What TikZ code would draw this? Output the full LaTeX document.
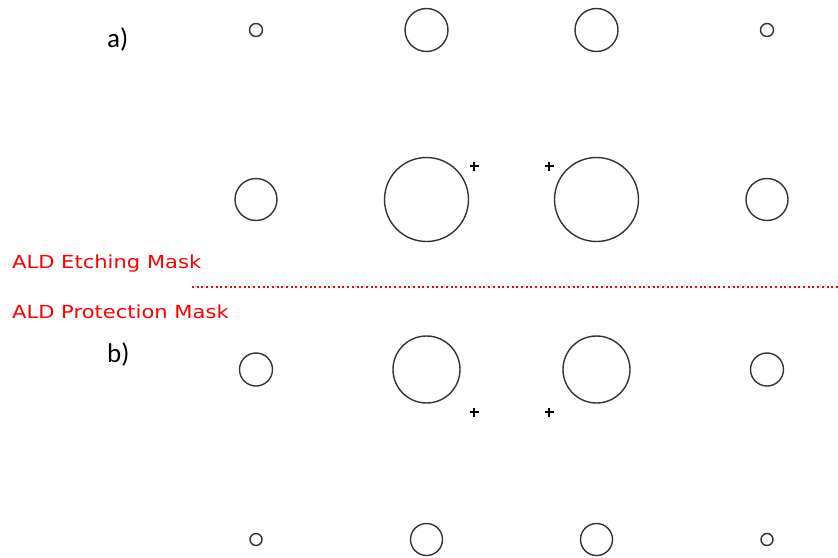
\documentclass[tikz,border=0pt]{standalone}
\usepackage{fontspec}
\setmainfont{Carlito}
\newfontfamily\labfont{DejaVu Sans}
\begin{document}
\begin{tikzpicture}[x=1pt,y=-1pt,
  ring/.style={draw=black!80, line width=1.4pt},
  plusmark/.style={draw=black, line width=2.6pt},
  masklabel/.style={anchor=base west, inner sep=0pt, text=red, font=\labfont\fontsize{18}{20}\selectfont},
  partlabel/.style={anchor=base west, inner sep=0pt, font=\fontsize{27}{30}\selectfont}]
\useasboundingbox (0,0) rectangle (838,557);
% labels
\node[partlabel] (la) at (107,47) {a)};
\node[partlabel] (lb) at (107,362) {b)};
\node[masklabel] (etch) at (12,268) {\scalebox{1.17}[1]{ALD Etching Mask}};
\node[masklabel] (prot) at (12,318) {\scalebox{1.17}[1]{ALD Protection Mask}};
\coordinate (d1) at (192,286.5);
\coordinate (d2) at (838,286.5);
\draw[red, line width=2pt, dash pattern=on 2pt off 2.7pt] (d1) -- (d2);
% circles a)
\foreach \x/\r in {256/6.5, 426.5/21.5, 596.5/21.5, 767/6.5}
  \draw[ring] (\x,30) circle[radius=\r];
\foreach \x/\r in {256/21, 426.5/42, 596.5/42, 767/21}
  \draw[ring] (\x,199.5) circle[radius=\r];
% circles b)
\foreach \x/\r in {256/16.5, 426.5/33.5, 596.5/33.5, 767/16.5}
  \draw[ring] (\x,369.5) circle[radius=\r];
\foreach \x/\r in {256/6, 426.5/16, 596.5/16, 767/6}
  \draw[ring] (\x,539.5) circle[radius=\r];
% plus marks
\foreach \x/\y in {474/166, 549/166, 474/412, 549/412}
  \draw[plusmark] (\x-4.5,\y) -- (\x+4.5,\y) (\x,\y-4.5) -- (\x,\y+4.5);
\end{tikzpicture}
\end{document}
